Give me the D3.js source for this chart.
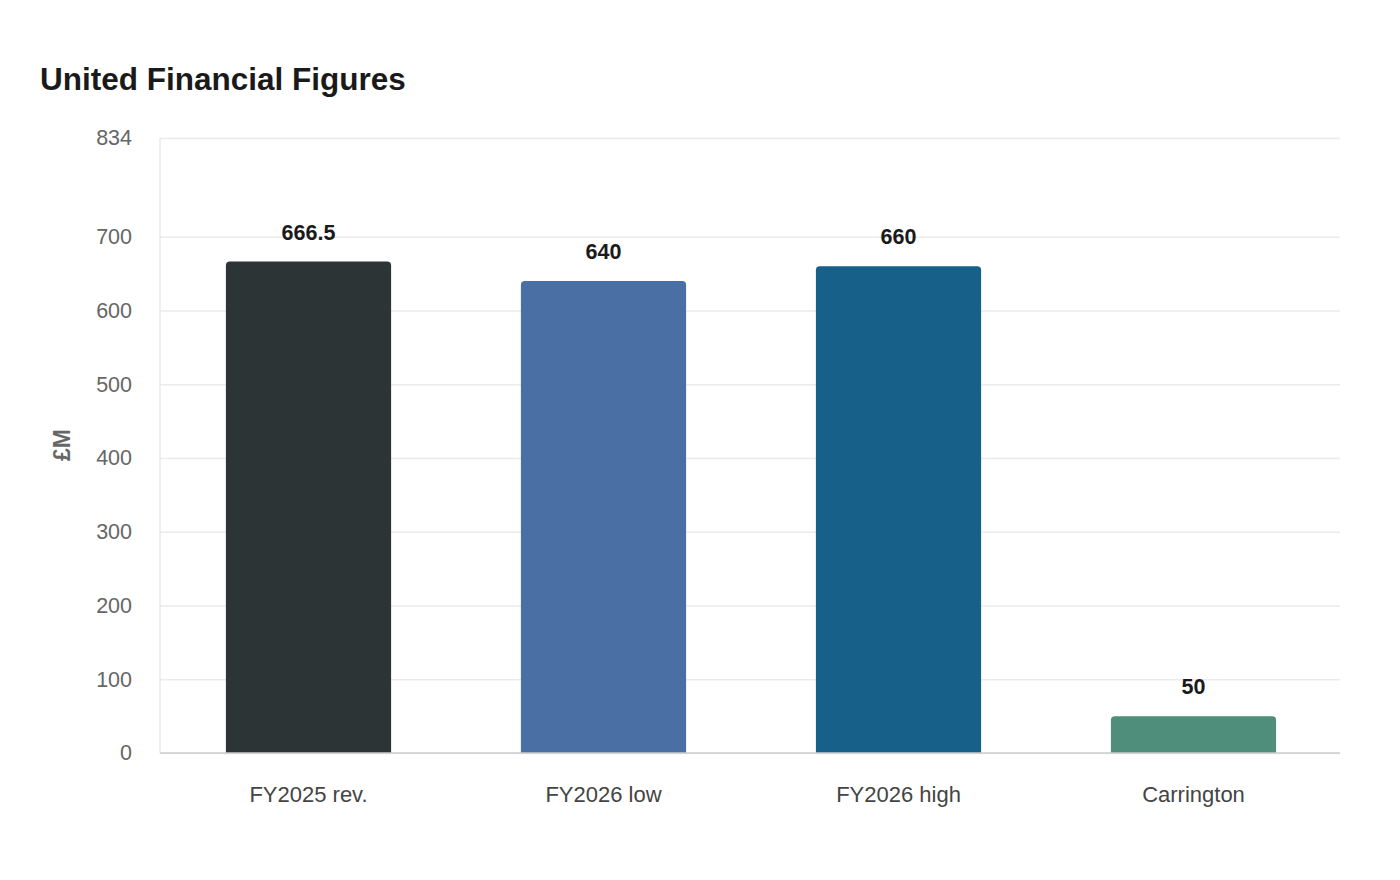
<!DOCTYPE html>
<html><head><meta charset="utf-8">
<script src="https://cdn.jsdelivr.net/npm/d3@7"></script>
<style>body{margin:0;background:#fff;font-family:"Liberation Sans",Arial,sans-serif;}</style>
</head><body><svg id="c" width="1400" height="880"></svg>
<script>
const categories = ["FY2025 rev.", "FY2026 low", "FY2026 high", "Carrington"];
const values = [666.5, 640, 660, 50];
const labels = ["666.5", "640", "660", "50"];
const colors = ["#2d3436", "#4a6fa5", "#17608a", "#4e8e7a"];
const yTicks = [0, 100, 200, 300, 400, 500, 600, 700, 834];
const yMax = 834;

const svg = d3.select("#c");
const m = {l:160, r:1340, t:138, b:753};
const x = d3.scaleBand().domain(categories).range([m.l+1, m.r+1]).paddingInner(0.44).paddingOuter(0.22);
const y = d3.scaleLinear().domain([0, yMax]).range([m.b, m.t]);

svg.append("text").attr("x",40).attr("y",90).attr("font-size",31.5).attr("font-weight","bold").attr("fill","#1a1a1a").text("United Financial Figures");

// grid
const ya = svg.append("g").attr("transform",`translate(${m.l},0)`)
  .call(d3.axisLeft(y).tickValues(yTicks).tickSize(15).tickPadding(13).tickFormat(d3.format("d")));
ya.select(".domain").remove();
ya.selectAll(".tick line").attr("stroke","#ebebeb").attr("stroke-width",1.5).attr("x2", m.r-m.l);
ya.selectAll(".tick text").attr("font-size",21.5).attr("fill","#666").attr("font-family","Liberation Sans, Arial, sans-serif");
// left axis line
svg.append("line").attr("x1",m.l).attr("x2",m.l).attr("y1",m.t).attr("y2",m.b).attr("stroke","#e0e0e0").attr("stroke-width",1);

// bars with rounded top corners
const r = 4;
svg.selectAll("path.bar").data(categories).join("path").attr("class","bar")
  .attr("fill",(d,i)=>colors[i])
  .attr("d",(d,i)=>{
    const x0 = x(d), w = x.bandwidth(), y0 = y(values[i]), yb = y(0);
    return `M${x0},${yb}V${y0+r}Q${x0},${y0} ${x0+r},${y0}H${x0+w-r}Q${x0+w},${y0} ${x0+w},${y0+r}V${yb}Z`;
  });

// baseline
svg.append("line").attr("x1",m.l).attr("x2",m.r).attr("y1",y(0)).attr("y2",y(0)).attr("stroke","#cccccc").attr("stroke-width",1.5);

// value labels
svg.selectAll("text.val").data(categories).join("text").attr("class","val")
  .attr("x",d=>x(d)+x.bandwidth()/2).attr("y",(d,i)=>y(values[i])-22)
  .attr("text-anchor","middle").attr("font-size",21.5).attr("font-weight","bold").attr("fill","#1a1a1a")
  .text((d,i)=>labels[i]);

// x labels
const xa = svg.append("g").attr("transform",`translate(0,${m.b})`).call(d3.axisBottom(x).tickSize(0).tickPadding(33));
xa.select(".domain").remove();
xa.selectAll(".tick text").attr("font-size",22).attr("fill","#444").attr("font-family","Liberation Sans, Arial, sans-serif");

// y label
svg.append("text").attr("transform","translate(70,445) rotate(-90)").attr("text-anchor","middle")
  .attr("font-size",23).attr("font-weight","bold").attr("fill","#666").text("£M");
</script></body></html>
